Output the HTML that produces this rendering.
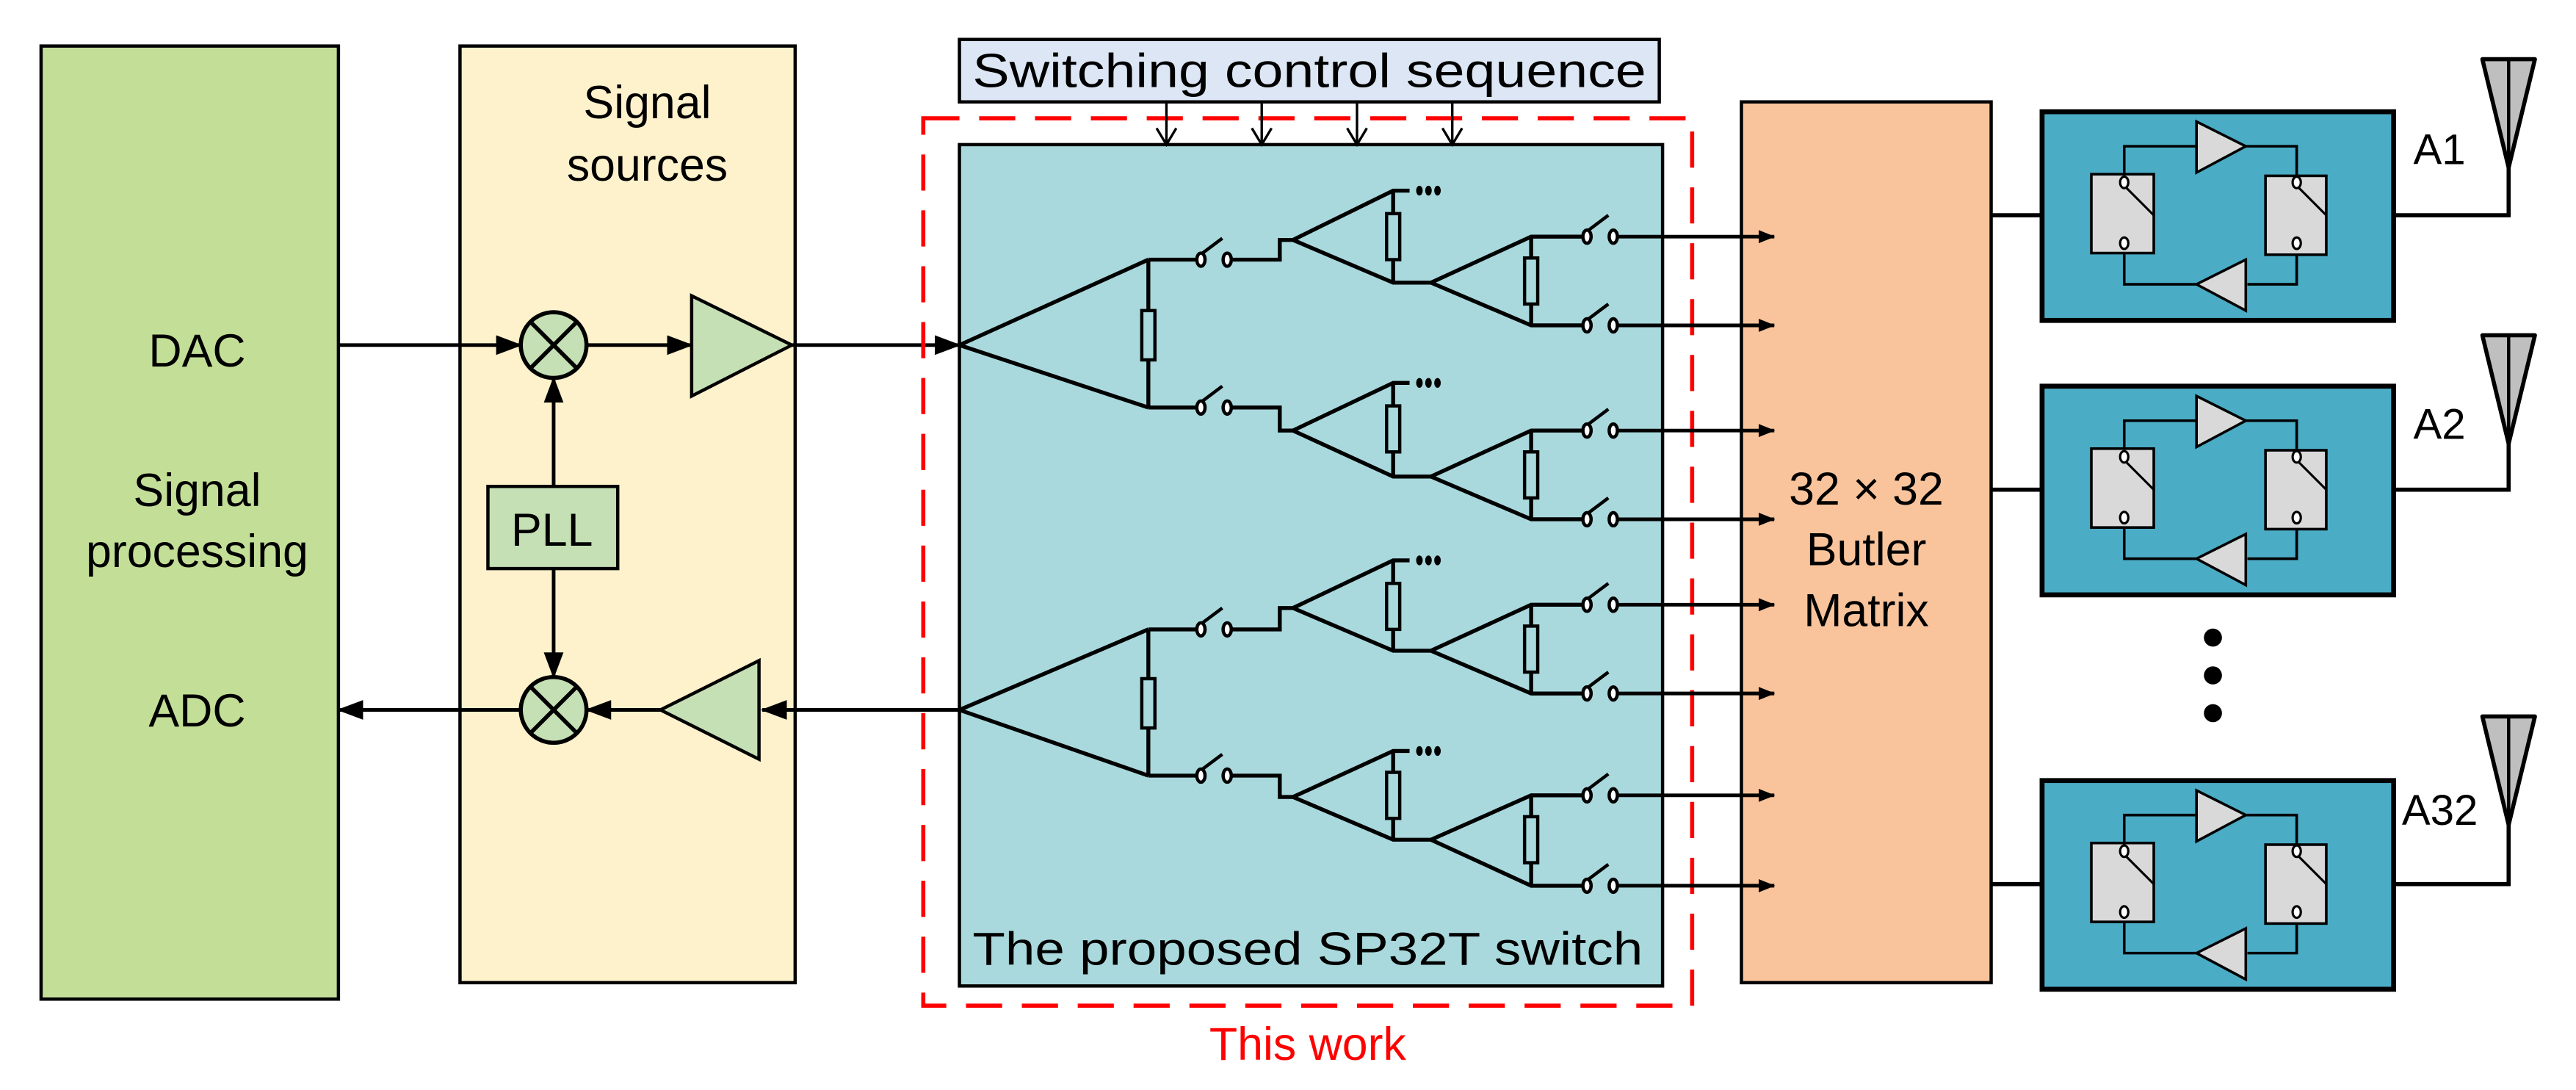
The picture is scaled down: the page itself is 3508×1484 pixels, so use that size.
<!DOCTYPE html>
<html><head><meta charset="utf-8"><style>
html,body{margin:0;padding:0;background:#fff;}
svg{display:block;}
text{font-family:"Liberation Sans",Arial,sans-serif;}
</style></head><body>
<svg width="3508" height="1484" viewBox="0 0 1568 663.3" xmlns="http://www.w3.org/2000/svg">
<defs>
<marker id="ar" markerWidth="10" markerHeight="8" refX="9.5" refY="4" orient="auto" markerUnits="userSpaceOnUse" viewBox="0 0 10 8">
<path d="M0,0 L10,4 L0,8 Z" fill="#000"/></marker>
<marker id="arL" markerWidth="16" markerHeight="12" refX="15" refY="6" orient="auto" markerUnits="userSpaceOnUse" viewBox="0 0 16 12">
<path d="M0,0 L16,6 L0,12 Z" fill="#000"/></marker>
<g id="sw"><ellipse cx="731" cy="0" rx="2.5" ry="4"/><ellipse cx="747" cy="0" rx="2.5" ry="4"/><line x1="732" y1="-4" x2="744" y2="-13"/></g>
<g id="ab">
<rect x="0" y="0" width="214" height="127" fill="#4bacc6" stroke="#000" stroke-width="3"/>
<rect x="30" y="38" width="38" height="48" fill="#d9d9d9" stroke="#000" stroke-width="1.6"/>
<rect x="136" y="39" width="37" height="48" fill="#d9d9d9" stroke="#000" stroke-width="1.6"/>
<polyline points="50,38 50,21 94,21" fill="none" stroke="#000" stroke-width="1.6"/>
<polygon points="94,6 94,37 124,21" fill="#d9d9d9" stroke="#000" stroke-width="1.6"/>
<polyline points="124,21 155,21 155,39" fill="none" stroke="#000" stroke-width="1.6"/>
<polyline points="155,87 155,105 125,105" fill="none" stroke="#000" stroke-width="1.6"/>
<polygon points="124,90 124,121 94,105" fill="#d9d9d9" stroke="#000" stroke-width="1.6"/>
<polyline points="94,105 50,105 50,86" fill="none" stroke="#000" stroke-width="1.6"/>
<ellipse cx="50" cy="43" rx="2.5" ry="3.5" fill="#fff" stroke="#000" stroke-width="1.4"/>
<ellipse cx="50" cy="80" rx="2.5" ry="3.5" fill="#fff" stroke="#000" stroke-width="1.4"/>
<ellipse cx="155" cy="43" rx="2.5" ry="3.5" fill="#fff" stroke="#000" stroke-width="1.4"/>
<ellipse cx="155" cy="80" rx="2.5" ry="3.5" fill="#fff" stroke="#000" stroke-width="1.4"/>
<line x1="51" y1="46" x2="68" y2="63" stroke="#000" stroke-width="1.4"/>
<line x1="156" y1="46" x2="173" y2="63" stroke="#000" stroke-width="1.4"/>
</g>
<g id="ant">
<polygon points="-16,0 16,0 0,66" fill="#bfbfbf" stroke="#000" stroke-width="2.5" stroke-linejoin="round"/>
<line x1="0" y1="0" x2="0" y2="66" stroke="#000" stroke-width="2"/>
</g>
</defs>

<!-- Signal processing -->
<rect x="25" y="28" width="181" height="580" fill="#c3df97" stroke="#000" stroke-width="2"/>
<text x="120" y="223" font-size="28" text-anchor="middle">DAC</text>
<text x="120" y="308" font-size="28" text-anchor="middle">Signal</text>
<text x="120" y="345" font-size="28" text-anchor="middle">processing</text>
<text x="120" y="442" font-size="28" text-anchor="middle">ADC</text>

<!-- Signal sources -->
<rect x="280" y="28" width="204" height="570" fill="#fef2cc" stroke="#000" stroke-width="2"/>
<text x="394" y="72" font-size="28" text-anchor="middle">Signal</text>
<text x="394" y="110" font-size="28" text-anchor="middle">sources</text>

<g stroke="#000" stroke-width="2.2" fill="none">
<line x1="206" y1="210" x2="317" y2="210" marker-end="url(#arL)"/>
<line x1="357" y1="210" x2="421" y2="210" marker-end="url(#arL)"/>
<line x1="482" y1="210" x2="584" y2="210" marker-end="url(#arL)"/>
<line x1="584" y1="432" x2="464" y2="432" marker-end="url(#arL)"/>
<line x1="402" y1="432" x2="357" y2="432" marker-end="url(#arL)"/>
<line x1="317" y1="432" x2="206" y2="432" marker-end="url(#arL)"/>
<line x1="337" y1="296" x2="337" y2="230" marker-end="url(#arL)"/>
<line x1="337" y1="346" x2="337" y2="412" marker-end="url(#arL)"/>
</g>
<g stroke="#000" stroke-width="2.5">
<circle cx="337" cy="210" r="20" fill="#c5e0b4"/>
<line x1="323" y1="196" x2="351" y2="224"/><line x1="351" y1="196" x2="323" y2="224"/>
<circle cx="337" cy="432" r="20" fill="#c5e0b4"/>
<line x1="323" y1="418" x2="351" y2="446"/><line x1="351" y1="418" x2="323" y2="446"/>
</g>
<polygon points="421,180 421,241 482,210" fill="#c5e0b4" stroke="#000" stroke-width="2"/>
<polygon points="462,402 462,462 402,432" fill="#c5e0b4" stroke="#000" stroke-width="2"/>
<rect x="297" y="296" width="79" height="50" fill="#c5e0b4" stroke="#000" stroke-width="2"/>
<text x="336" y="332" font-size="28" text-anchor="middle">PLL</text>

<!-- Control box -->
<rect x="584" y="24" width="426" height="38" fill="#dce6f4" stroke="#000" stroke-width="2"/>
<text x="797" y="53" font-size="29" text-anchor="middle" textLength="410" lengthAdjust="spacingAndGlyphs">Switching control sequence</text>

<!-- Switch box -->
<rect x="584" y="88" width="428" height="512" fill="#a9d9dd" stroke="#000" stroke-width="2"/>
<rect x="562" y="72" width="468" height="540" fill="none" stroke="#f00" stroke-width="2.5" stroke-dasharray="22 12"/>
<text x="796" y="587" font-size="28" text-anchor="middle" textLength="408" lengthAdjust="spacingAndGlyphs">The proposed SP32T switch</text>
<text x="796" y="645" font-size="28" text-anchor="middle" fill="#f00">This work</text>

<g stroke="#000" stroke-width="1.5" fill="none">
<line x1="710" y1="62" x2="710" y2="88"/><polyline points="704,78 710,88 716,78"/>
<line x1="768" y1="62" x2="768" y2="88"/><polyline points="762,78 768,88 774,78"/>
<line x1="826" y1="62" x2="826" y2="88"/><polyline points="820,78 826,88 832,78"/>
<line x1="884" y1="62" x2="884" y2="88"/><polyline points="878,78 884,88 890,78"/>
</g>

<!-- Tree -->
<g stroke="#000" stroke-width="2.4" fill="none">
<polyline points="699,158 584,210 699,248"/>
<line x1="699" y1="158" x2="699" y2="248"/>
<polyline points="699,158 728,158"/><polyline points="749,158 779,158 779,146 787,146"/>
<polyline points="699,248 728,248"/><polyline points="749,248 779,248 779,262 787,262"/>
<polyline points="858,116 848,116 787,146 848,172 871,172"/><line x1="848" y1="116" x2="848" y2="172"/>
<polyline points="858,233 848,233 787,262 848,290 871,290"/><line x1="848" y1="233" x2="848" y2="290"/>
<polyline points="963,144 932,144 871,172 932,198 963,198"/><line x1="932" y1="144" x2="932" y2="198"/>
<polyline points="963,262 932,262 871,290 932,316 963,316"/><line x1="932" y1="262" x2="932" y2="316"/>
<polyline points="699,383 584,432 699,472"/>
<line x1="699" y1="383" x2="699" y2="472"/>
<polyline points="699,383 728,383"/><polyline points="749,383 779,383 779,370 787,370"/>
<polyline points="699,472 728,472"/><polyline points="749,472 779,472 779,485 787,485"/>
<polyline points="858,341 848,341 787,370 848,396 871,396"/><line x1="848" y1="341" x2="848" y2="396"/>
<polyline points="858,457 848,457 787,485 848,511 871,511"/><line x1="848" y1="457" x2="848" y2="511"/>
<polyline points="963,368 932,368 871,396 932,422 963,422"/><line x1="932" y1="368" x2="932" y2="422"/>
<polyline points="963,484 932,484 871,511 932,539 963,539"/><line x1="932" y1="484" x2="932" y2="539"/>
</g>
<g fill="#a9d9dd" stroke="#000" stroke-width="2">
<rect x="695" y="189" width="8" height="30"/>
<rect x="695" y="413" width="8" height="30"/>
<rect x="844" y="130" width="8" height="28"/>
<rect x="844" y="247" width="8" height="28"/>
<rect x="844" y="355" width="8" height="28"/>
<rect x="844" y="470" width="8" height="28"/>
<rect x="928" y="157" width="8" height="28"/>
<rect x="928" y="275" width="8" height="28"/>
<rect x="928" y="381" width="8" height="28"/>
<rect x="928" y="497" width="8" height="28"/>
</g>
<g fill="#000">
<ellipse cx="864" cy="116" rx="2" ry="3"/><ellipse cx="869.5" cy="116" rx="2" ry="3"/><ellipse cx="875" cy="116" rx="2" ry="3"/>
<ellipse cx="864" cy="233" rx="2" ry="3"/><ellipse cx="869.5" cy="233" rx="2" ry="3"/><ellipse cx="875" cy="233" rx="2" ry="3"/>
<ellipse cx="864" cy="341" rx="2" ry="3"/><ellipse cx="869.5" cy="341" rx="2" ry="3"/><ellipse cx="875" cy="341" rx="2" ry="3"/>
<ellipse cx="864" cy="457" rx="2" ry="3"/><ellipse cx="869.5" cy="457" rx="2" ry="3"/><ellipse cx="875" cy="457" rx="2" ry="3"/>
</g>
<g stroke="#000" stroke-width="2" fill="#fff">
<use href="#sw" transform="translate(0,158)"/>
<use href="#sw" transform="translate(0,248)"/>
<use href="#sw" transform="translate(0,383)"/>
<use href="#sw" transform="translate(0,472)"/>
<use href="#sw" transform="translate(235,144)"/>
<use href="#sw" transform="translate(235,198)"/>
<use href="#sw" transform="translate(235,262)"/>
<use href="#sw" transform="translate(235,316)"/>
<use href="#sw" transform="translate(235,368)"/>
<use href="#sw" transform="translate(235,422)"/>
<use href="#sw" transform="translate(235,484)"/>
<use href="#sw" transform="translate(235,539)"/>
</g>

<!-- Butler -->
<rect x="1060" y="62" width="152" height="536" fill="#f9c49c" stroke="#000" stroke-width="2"/>
<text x="1136" y="307" font-size="28" text-anchor="middle">32 × 32</text>
<text x="1136" y="344" font-size="28" text-anchor="middle">Butler</text>
<text x="1136" y="381" font-size="28" text-anchor="middle">Matrix</text>

<g stroke="#000" stroke-width="2.2" fill="none">
<line x1="984" y1="144" x2="1080" y2="144" marker-end="url(#ar)"/>
<line x1="984" y1="198" x2="1080" y2="198" marker-end="url(#ar)"/>
<line x1="984" y1="262" x2="1080" y2="262" marker-end="url(#ar)"/>
<line x1="984" y1="316" x2="1080" y2="316" marker-end="url(#ar)"/>
<line x1="984" y1="368" x2="1080" y2="368" marker-end="url(#ar)"/>
<line x1="984" y1="422" x2="1080" y2="422" marker-end="url(#ar)"/>
<line x1="984" y1="484" x2="1080" y2="484" marker-end="url(#ar)"/>
<line x1="984" y1="539" x2="1080" y2="539" marker-end="url(#ar)"/>
</g>

<g stroke="#000" stroke-width="2.5" fill="none">
<line x1="1212" y1="131" x2="1243" y2="131"/><polyline points="1457,131 1527,131 1527,100"/>
<line x1="1212" y1="298" x2="1243" y2="298"/><polyline points="1457,298 1527,298 1527,268"/>
<line x1="1212" y1="538" x2="1243" y2="538"/><polyline points="1457,538 1527,538 1527,500"/>
</g>
<use href="#ab" transform="translate(1243,68)"/>
<use href="#ab" transform="translate(1243,235)"/>
<use href="#ab" transform="translate(1243,475)"/>
<use href="#ant" transform="translate(1527,36)"/>
<use href="#ant" transform="translate(1527,204)"/>
<use href="#ant" transform="translate(1527,436)"/>
<text x="1469" y="100" font-size="26">A1</text>
<text x="1469" y="267" font-size="26">A2</text>
<text x="1462" y="502" font-size="26">A32</text>
<circle cx="1347" cy="388" r="5.5" fill="#000"/>
<circle cx="1347" cy="411" r="5.5" fill="#000"/>
<circle cx="1347" cy="434" r="5.5" fill="#000"/>
</svg>
</body></html>
